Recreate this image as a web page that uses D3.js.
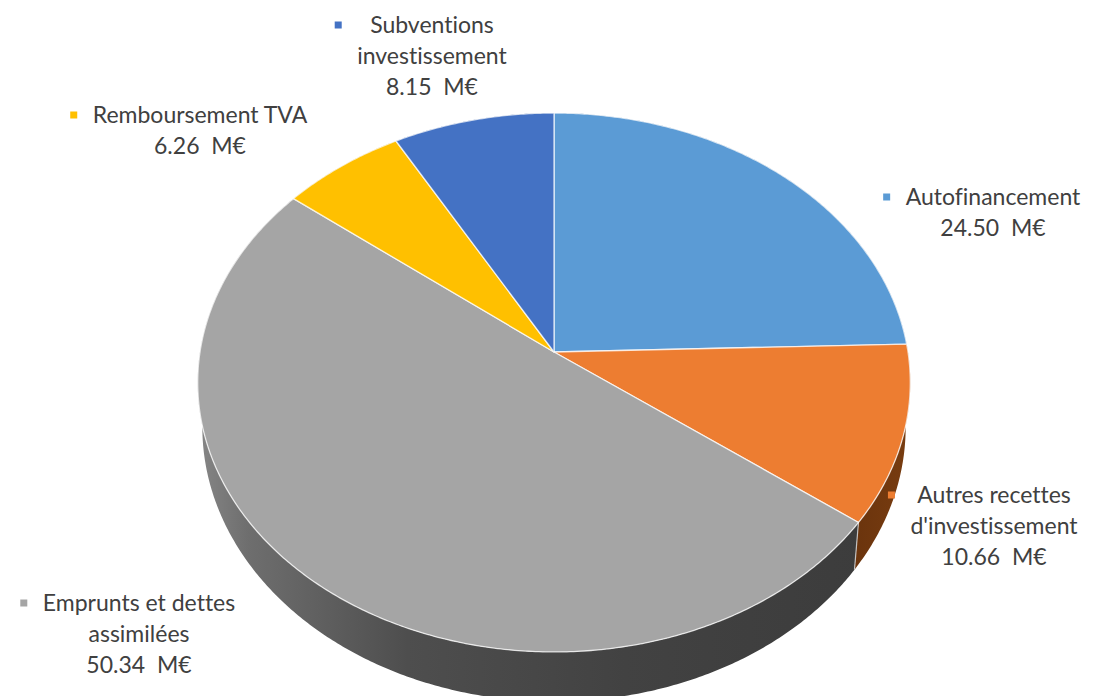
<!DOCTYPE html>
<html>
<head>
<meta charset="utf-8">
<script src="https://cdn.jsdelivr.net/npm/d3@7/dist/d3.min.js"></script>
<style>
  html, body { margin: 0; padding: 0; background: #ffffff; }
  svg { display: block; }
  text { font-family: Lato, "Open Sans", sans-serif; white-space: pre; font-variant-ligatures: none; font-feature-settings: "liga" 0, "dlig" 0; }
</style>
</head>
<body>
<svg id="chart" width="1115" height="696"></svg>
<script>
// Investment revenue breakdown (M€)
const categories = [
  "Autofinancement",
  "Autres recettes\nd'investissement",
  "Emprunts et dettes\nassimilées",
  "Remboursement TVA",
  "Subventions\ninvestissement"
];
const values = [24.50, 10.66, 50.34, 6.26, 8.15];
const colors = ["#5B9BD5", "#ED7D31", "#A5A5A5", "#FFC000", "#4472C4"];
const unitLabel = "M€";

// Label placement: centre x of the text block and baseline of its first line
const labelPos = [
  { x: 993, y: 205 },
  { x: 994, y: 503 },
  { x: 139, y: 611 },
  { x: 200, y: 123 },
  { x: 432, y: 33 }
];

const svg = d3.select("#chart");

// Perspective disc: centre of the pie, half-width, depth scale, perspective factor
const cx = 554, cy = 352, ax = 354, by = 266, k = 0.1132;
const depth = 44, shrink = 0.987;

function project(theta, bottom) {
  const u = Math.sin(theta), v = -Math.cos(theta);
  const w = 1 - k * v;
  let x = cx + ax * u / w;
  let y = cy + by * v / w;
  if (bottom) {
    x = cx + (x - cx) * shrink;
    y = y + depth / w;
  }
  return [x, y];
}
function arcPoints(a0, a1, bottom) {
  const n = Math.max(2, Math.ceil(Math.abs(a1 - a0) / (Math.PI / 360)));
  return d3.range(n + 1).map(i => project(a0 + (a1 - a0) * i / n, bottom));
}
const line = d3.line();

const pie = d3.pie().sort(null).value(d => d).startAngle(0).endAngle(2 * Math.PI);
const arcs = pie(values);

// Gradients for the cylinder wall
const defs = svg.append("defs");
function wallGradient(id, stops) {
  const g = defs.append("linearGradient").attr("id", id)
    .attr("gradientUnits", "userSpaceOnUse")
    .attr("x1", 190).attr("y1", 0).attr("x2", 915).attr("y2", 0);
  stops.forEach(s => g.append("stop").attr("offset", s[0]).attr("stop-color", s[1]));
}
wallGradient("wall0", [[0, "#3d6f9c"], [1, "#2f5a82"]]);
wallGradient("wall1", [[0, "#5a2b0a"], [0.85, "#5e2d0b"], [1, "#7a3d10"]]);
wallGradient("wall2", [[0, "#8a8a8a"], [0.08, "#6e6e6e"], [0.3, "#4e4e4e"], [0.6, "#424242"], [1, "#3b3b3b"]]);
wallGradient("wall3", [[0, "#a07800"], [1, "#a07800"]]);
wallGradient("wall4", [[0, "#2c4d8a"], [1, "#2c4d8a"]]);

// Walls drawn back to front, then the top faces
const order = d3.range(arcs.length).sort((i, j) => {
  const mi = -Math.cos((arcs[i].startAngle + arcs[i].endAngle) / 2);
  const mj = -Math.cos((arcs[j].startAngle + arcs[j].endAngle) / 2);
  return mi - mj;
});

const walls = svg.append("g");
order.forEach(i => {
  const a = arcs[i];
  const top = arcPoints(a.startAngle, a.endAngle, false);
  const bot = arcPoints(a.endAngle, a.startAngle, true);
  walls.append("path")
    .attr("d", line(top.concat(bot)) + "Z")
    .attr("fill", `url(#wall${i})`)
    .attr("stroke", "none");
});
// light seam where slices meet on the wall
arcs.forEach(a => {
  const t = project(a.startAngle, false), b = project(a.startAngle, true);
  if (-Math.cos(a.startAngle) > 0.12) {
    walls.append("line").attr("x1", t[0]).attr("y1", t[1]).attr("x2", b[0]).attr("y2", b[1])
      .attr("stroke", "#d9d9d9").attr("stroke-width", 1.2).attr("opacity", 0.8);
  }
});

const faces = svg.append("g");
arcs.forEach((a, i) => {
  const pts = [[cx, cy]].concat(arcPoints(a.startAngle, a.endAngle, false));
  faces.append("path")
    .attr("d", line(pts) + "Z")
    .attr("fill", colors[i])
    .attr("stroke", "#ffffff")
    .attr("stroke-opacity", 0.75)
    .attr("stroke-width", 1.3)
    .attr("stroke-linejoin", "round");
});

// Labels with legend keys
const fmt = d3.format(".2f");
const lineH = 31;
const labels = svg.append("g");
arcs.forEach((a, i) => {
  const lines = categories[i].split("\n").concat([fmt(values[i]) + "  " + unitLabel]);
  const g = labels.append("g");
  let widest = 0;
  lines.forEach((t, j) => {
    const tx = g.append("text")
      .attr("x", labelPos[i].x)
      .attr("y", labelPos[i].y + j * lineH)
      .attr("text-anchor", "middle")
      .attr("font-size", 23)
      .attr("fill", "#404040")
      .text(t);
    widest = Math.max(widest, tx.node().getComputedTextLength());
  });
  const keyX = labelPos[i].x - widest / 2 - 19;
  g.append("rect")
    .attr("x", keyX - 3.5).attr("y", labelPos[i].y - 11.5)
    .attr("width", 7).attr("height", 7)
    .attr("fill", colors[i]);
});
</script>
</body>
</html>
